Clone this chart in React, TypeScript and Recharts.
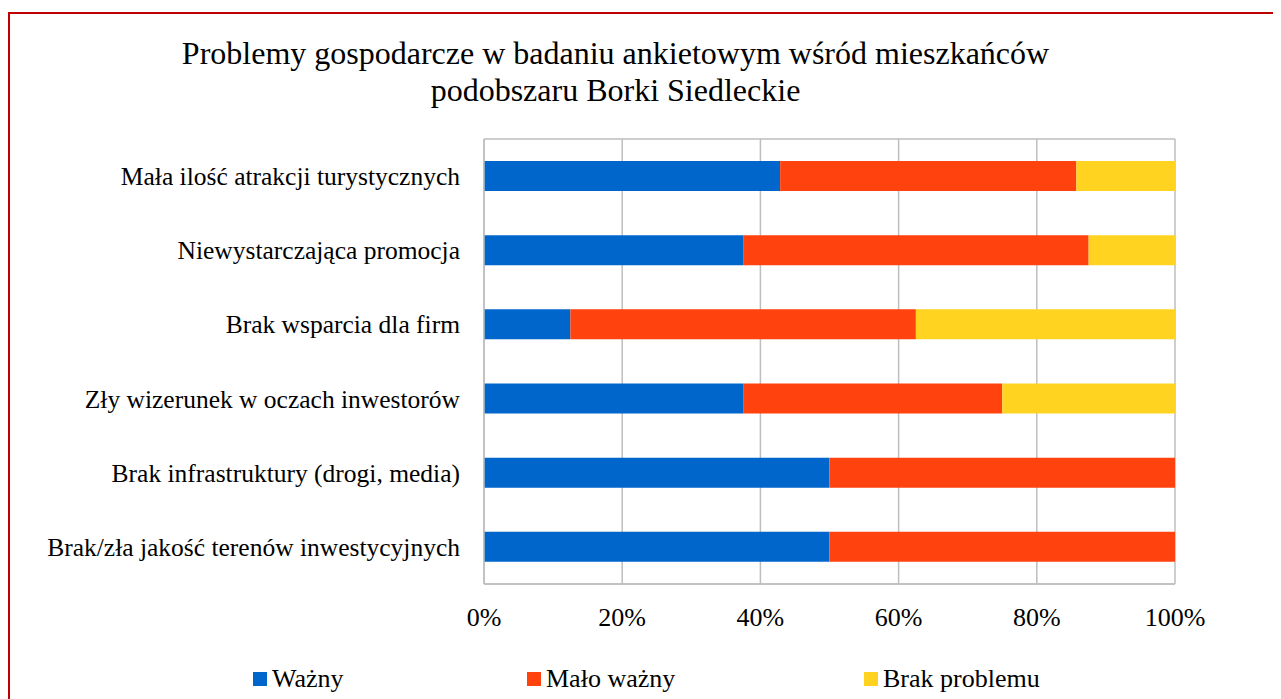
import React from 'react';
import { BarChart, Bar, XAxis, YAxis, CartesianGrid, Legend } from 'recharts';

const categories = [
  'Mała ilość atrakcji turystycznych',
  'Niewystarczająca promocja',
  'Brak wsparcia dla firm',
  'Zły wizerunek w oczach inwestorów',
  'Brak infrastruktury (drogi, media)',
  'Brak/zła jakość terenów inwestycyjnych',
];
const wazny = [42.86, 37.5, 12.5, 37.5, 50, 50];
const maloWazny = [42.86, 50, 50, 37.5, 50, 50];
const brakProblemu = [14.28, 12.5, 37.5, 25, 0, 0];
const xTicks = [0, 20, 40, 60, 80, 100];

const seriesNames = ['Ważny', 'Mało ważny', 'Brak problemu'];
const seriesColors = ['#0066CC', '#FF420E', '#FFD320'];

const data = categories.map((c, i) => ({
  name: c,
  wazny: wazny[i],
  malo: maloWazny[i],
  brak: brakProblemu[i],
}));

const FONT = '"Liberation Serif", "Times New Roman", serif';

const legendOffsets = [229, 503, 840];

const renderLegend = () => (
  <div style={{ position: 'relative', height: 30, fontFamily: FONT, fontSize: 26, lineHeight: '30px', color: '#000' }}>
    {seriesNames.map((n, i) => (
      <div
        key={n}
        style={{ position: 'absolute', left: legendOffsets[i], top: 0, height: 30, display: 'flex', alignItems: 'center', whiteSpace: 'nowrap' }}
      >
        <span style={{ display: 'inline-block', width: 14, height: 14, background: seriesColors[i], marginRight: 5 }} />
        <span>{n}</span>
      </div>
    ))}
  </div>
);

export default function App() {
  return (
    <div
      style={{
        position: 'relative',
        marginTop: 4,
        width: 1269,
        height: 700,
        border: '2px solid #C00000',
        borderBottom: 'none',
        background: '#fff',
        fontFamily: FONT,
      }}
    >
      <div
        style={{
          position: 'absolute',
          left: 0,
          top: 21,
          width: 1211,
          textAlign: 'center',
          fontSize: 32,
          lineHeight: '37px',
          color: '#000',
        }}
      >
        Problemy gospodarcze w badaniu ankietowym wśród mieszkańców
        <br />
        podobszaru Borki Siedleckie
      </div>
      <BarChart
        width={1269}
        height={685}
        data={data}
        layout="vertical"
        margin={{ top: 125, right: 104, bottom: 5, left: 14 }}
        barSize={30}
      >
        <CartesianGrid
          stroke="#BEBEBE"
          strokeWidth={1.5}
          vertical={true}
          horizontal={true}
          horizontalCoordinatesGenerator={({ offset }: any) => [offset.top, offset.top + offset.height]}
        />
        <XAxis
          type="number"
          domain={[0, 100]}
          ticks={xTicks}
          tickFormatter={(v: number) => `${v}%`}
          axisLine={{ stroke: '#BEBEBE', strokeWidth: 1.5 }}
          tickLine={false}
          tick={{ fill: '#000', fontSize: 26, fontFamily: FONT }}
          tickMargin={18}
          height={80}
          interval={0}
        />
        <YAxis
          type="category"
          dataKey="name"
          width={460}
          axisLine={{ stroke: '#BEBEBE', strokeWidth: 1.5 }}
          tickLine={false}
          tick={{ fill: '#000', fontSize: 25.5, fontFamily: FONT }}
          tickMargin={18}
          interval={0}
        />
        <Legend verticalAlign="bottom" align="left" height={30} content={renderLegend} />
        <Bar dataKey="wazny" name={seriesNames[0]} stackId="a" fill={seriesColors[0]} isAnimationActive={false} />
        <Bar dataKey="malo" name={seriesNames[1]} stackId="a" fill={seriesColors[1]} isAnimationActive={false} />
        <Bar dataKey="brak" name={seriesNames[2]} stackId="a" fill={seriesColors[2]} isAnimationActive={false} />
      </BarChart>
    </div>
  );
}
